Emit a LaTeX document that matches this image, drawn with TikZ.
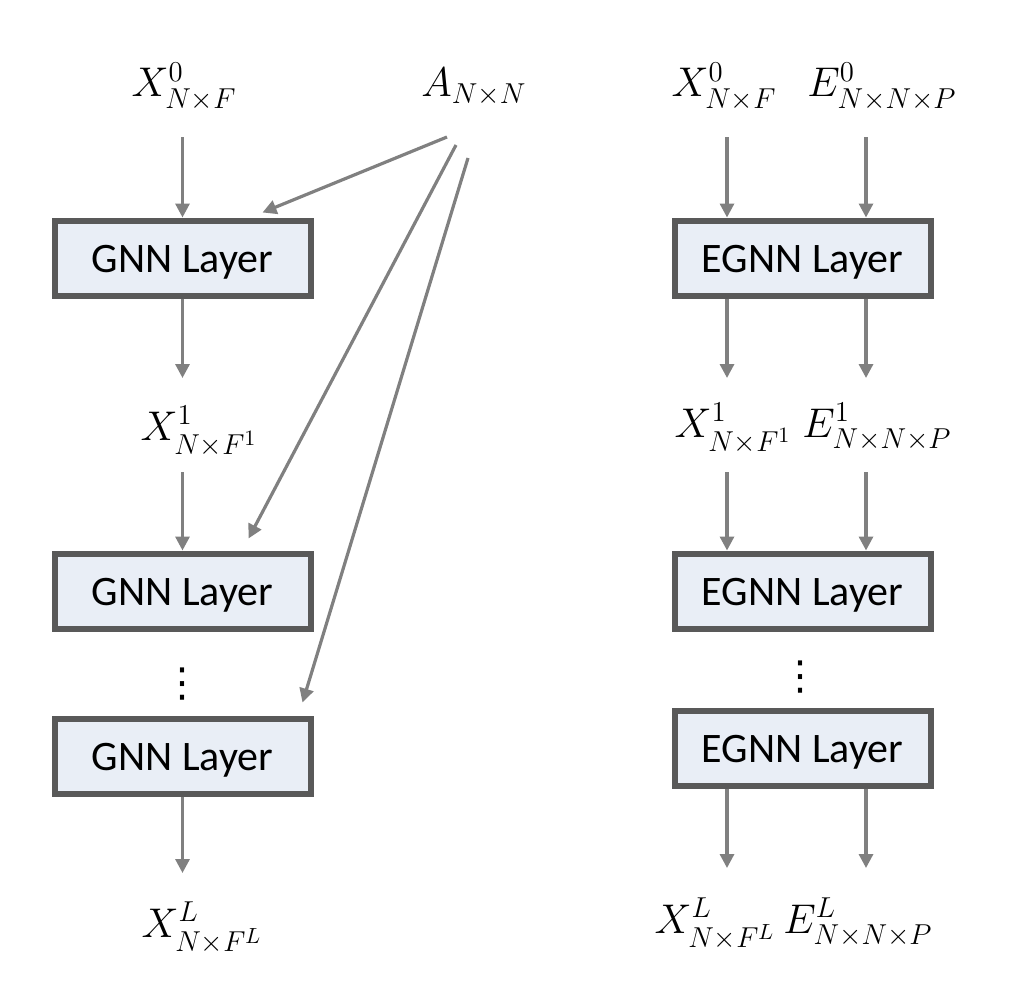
\documentclass[tikz,border=0pt]{standalone}
\usepackage{amsmath}
\usepackage{fontspec}
\setmainfont{Carlito}
\newfontfamily\dotfont{DejaVu Sans}
\usetikzlibrary{calc,arrows.meta}
\definecolor{boxfill}{HTML}{E9EEF6}
\definecolor{boxline}{HTML}{595959}
\definecolor{flowgray}{HTML}{808080}
\newcommand\feed[2]{%
  \draw[flow] (#1) -- (#2);
}

\begin{document}
\begin{tikzpicture}
[x=0.5pt, y=-0.5pt,
 layer/.style={rectangle, draw=boxline, fill=boxfill, line width=3pt, minimum width=128pt, minimum height=37.5pt, inner sep=0, text height=18pt, text depth=4pt, font=\fontsize{21}{25}\selectfont},
 var/.style={anchor=base, inner sep=0, font=\fontsize{21}{25}\selectfont},
 vdot/.style={inner sep=0, font=\dotfont\fontsize{20}{24}\selectfont},
 flow/.style={draw=flowgray, line width=1.6pt, -{Triangle[length=7pt,width=7pt]}}]
\useasboundingbox (0,0) rectangle (1015,995);
% plain GNN
\node [layer] (gnn1) at (182.5,258) {GNN Layer};
\node [layer] (gnn2) at (182.5,591) {GNN Layer};
\node [layer] (gnn3) at (182.5,756) {GNN Layer};
\node [vdot]  (gdots) at (182.5,684) {⋮};
\node [var] (x0) at (184,97)  {$X^{0}_{N\times F}$};
\node [var] (x1) at (199,440) {$X^{1}_{N\times F^{1}}$};
\node [var] (xL) at (202,937) {$X^{L}_{N\times F^{L}}$};
\node [var] (adj) at (474,97) {$A_{N\times N}$};
\coordinate (x0s) at (182.5,137);
\coordinate (x1n) at (182.5,378);
\coordinate (x1s) at (182.5,472);
\coordinate (xLn) at (182.5,873);
\feed{x0s}{gnn1}
\feed{gnn1}{x1n}
\feed{x1s}{gnn2}
\feed{gnn3}{xLn}
% adjacency into every layer
\coordinate (a1) at (447,137);
\coordinate (a2) at (456,145);
\coordinate (a3) at (468,158);
\draw[flow] (a1) -- ($(gnn1.north)+(80,-5)$);
\draw[flow] (a2) -- ($(gnn2.north)+(66,-12)$);
\draw[flow] (a3) -- ($(gnn3.north)+(120,-13)$);
% edge-aware GNN
\node [layer] (egnn1) at (802.5,258) {EGNN Layer};
\node [layer] (egnn2) at (802.5,591) {EGNN Layer};
\node [layer] (egnn3) at (802.5,748) {EGNN Layer};
\node [vdot]  (edots) at (800,677) {⋮};
\node [var] (rx0) at (724,97)  {$X^{0}_{N\times F}$};
\node [var] (re0) at (882,97)  {$E^{0}_{N\times N\times P}$};
\node [var] (rx1) at (733,437) {$X^{1}_{N\times F^{1}}$};
\node [var] (re1) at (877,437) {$E^{1}_{N\times N\times P}$};
\node [var] (rxL) at (715,933) {$X^{L}_{N\times F^{L}}$};
\node [var] (reL) at (858,933) {$E^{L}_{N\times N\times P}$};
\foreach \c/\xc in {x/727, e/866}
  { \coordinate (\c0s) at (\xc,137);
    \coordinate (\c1n) at (\xc,378);
    \coordinate (\c1s) at (\xc,472);
    \coordinate (\c Ln) at (\xc,868);
    \draw[flow] (\c0s) -- (\c0s |- egnn1.north);
    \draw[flow] (egnn1.south -| \c1n) -- (\c1n);
    \draw[flow] (\c1s) -- (\c1s |- egnn2.north);
    \draw[flow] (egnn3.south -| \c Ln) -- (\c Ln);
  }
\end{tikzpicture}
\end{document}
